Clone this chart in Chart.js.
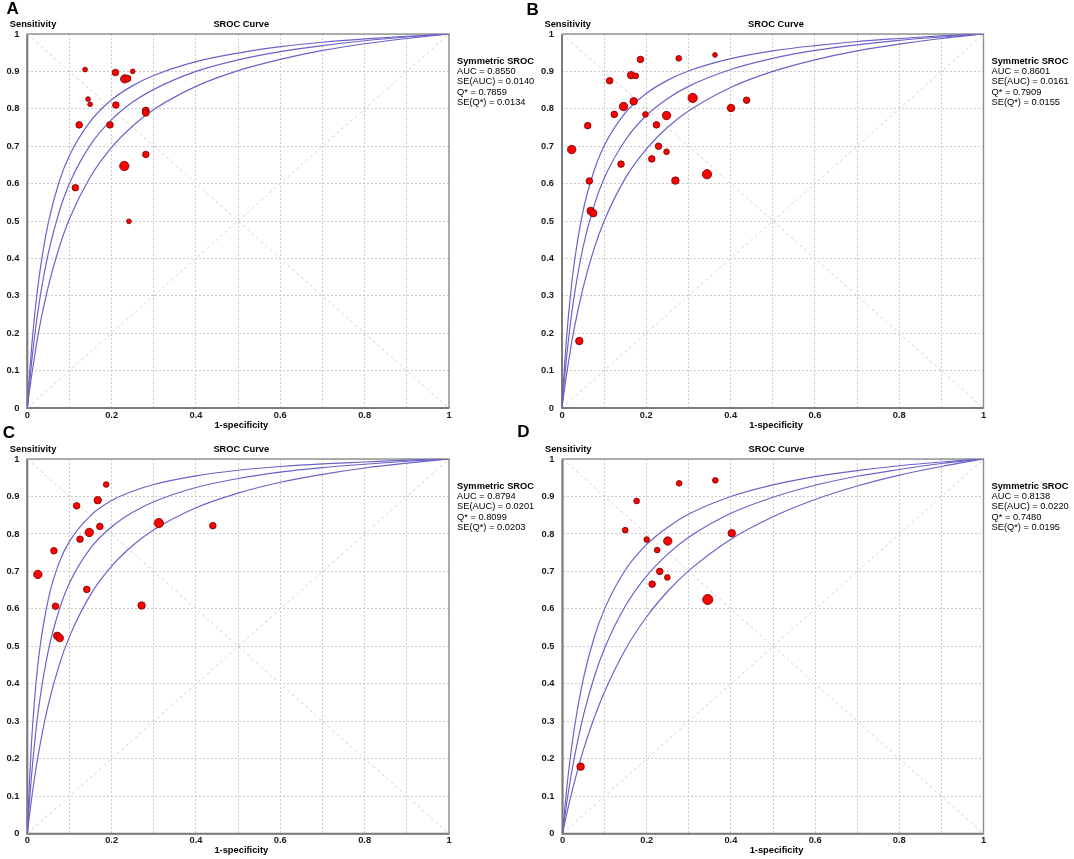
<!DOCTYPE html>
<html><head><meta charset="utf-8">
<script src="https://cdn.jsdelivr.net/npm/chart.js@4.4.1/dist/chart.umd.min.js"></script>
<style>
html,body{margin:0;padding:0;background:#fff;}
body{width:1074px;height:859px;position:relative;overflow:hidden;font-family:Arial,"Liberation Sans",sans-serif;}
canvas{position:absolute;}
.t{position:absolute;white-space:nowrap;color:#000;z-index:5;}
.letter{font-weight:bold;font-size:17px;line-height:17px;}
.lab{font-weight:bold;font-size:9.3px;line-height:12px;}
.stat{font-size:9.3px;line-height:10.3px;}
</style></head>
<body>
<script>
// ---------- data ----------
const curveX = [0, 0.005, 0.01, 0.02, 0.03, 0.05, 0.075, 0.1, 0.15, 0.2, 0.25, 0.3, 0.4, 0.5, 0.6, 0.7, 0.8, 0.9, 1];
const xTickLabels = ['0','','0.2','','0.4','','0.6','','0.8','','1'];
const yTickLabels = ['0','0.1','0.2','0.3','0.4','0.5','0.6','0.7','0.8','0.9','1'];
const diagX = [0, 1];
const diagY = [0, 1];
const antiY = [1, 0];

// Panel A
const aCurveMid = [0, 0.063, 0.120, 0.216, 0.294, 0.415, 0.522, 0.600, 0.704, 0.771, 0.818, 0.852, 0.900, 0.931, 0.953, 0.969, 0.982, 0.992, 1];
const aCurveUp  = [0, 0.086, 0.159, 0.276, 0.366, 0.496, 0.603, 0.675, 0.767, 0.824, 0.862, 0.889, 0.926, 0.949, 0.966, 0.978, 0.987, 0.994, 1];
const aCurveLo  = [0, 0.044, 0.085, 0.158, 0.222, 0.326, 0.427, 0.506, 0.619, 0.697, 0.754, 0.798, 0.860, 0.902, 0.932, 0.956, 0.974, 0.988, 1];
const aFpr  = [0.137, 0.209, 0.231, 0.238, 0.250, 0.144, 0.149, 0.210, 0.281, 0.281, 0.123, 0.196, 0.281, 0.230, 0.114, 0.241];
const aSens = [0.905, 0.897, 0.880, 0.881, 0.900, 0.826, 0.812, 0.810, 0.795, 0.789, 0.757, 0.757, 0.678, 0.647, 0.589, 0.499];
const aWeight = [1, 2, 3, 2, 1, 1, 1, 2, 2.3, 2, 2, 2, 2, 3.5, 2, 1];
const aStats = ['AUC = 0.8550', 'SE(AUC) = 0.0140', 'Q* = 0.7859', 'SE(Q*) = 0.0134'];

// Panel B
const bCurveMid = [0, 0.067, 0.126, 0.226, 0.307, 0.430, 0.537, 0.614, 0.716, 0.782, 0.827, 0.860, 0.905, 0.935, 0.956, 0.971, 0.983, 0.992, 1];
const bCurveUp  = [0, 0.096, 0.176, 0.301, 0.395, 0.527, 0.631, 0.701, 0.789, 0.841, 0.876, 0.901, 0.934, 0.955, 0.969, 0.980, 0.988, 0.995, 1];
const bCurveLo  = [0, 0.043, 0.083, 0.155, 0.218, 0.321, 0.422, 0.500, 0.614, 0.692, 0.750, 0.794, 0.857, 0.900, 0.931, 0.955, 0.973, 0.988, 1];
const bFpr  = [0.023, 0.061, 0.065, 0.113, 0.124, 0.140, 0.146, 0.164, 0.175, 0.170, 0.186, 0.198, 0.224, 0.213, 0.229, 0.248, 0.248, 0.277, 0.269, 0.310, 0.344, 0.363, 0.401, 0.438, 0.068, 0.074, 0.041];
const bSens = [0.691, 0.755, 0.607, 0.875, 0.785, 0.652, 0.806, 0.890, 0.888, 0.820, 0.932, 0.785, 0.757, 0.666, 0.700, 0.685, 0.782, 0.935, 0.608, 0.829, 0.625, 0.944, 0.802, 0.823, 0.527, 0.521, 0.179];
const bWeight = [3, 2, 2, 2, 2, 2, 3, 2.5, 1.5, 2.5, 2, 1.5, 2, 2, 2, 1.5, 3, 1.5, 2.5, 3.5, 3.5, 1, 2.5, 2, 2.5, 2.5, 2.5];
const bStats = ['AUC = 0.8601', 'SE(AUC) = 0.0161', 'Q* = 0.7909', 'SE(Q*) = 0.0155'];

// Panel C
const cCurveMid = [0, 0.084, 0.155, 0.270, 0.360, 0.489, 0.595, 0.669, 0.762, 0.819, 0.858, 0.886, 0.924, 0.948, 0.965, 0.977, 0.986, 0.994, 1];
const cCurveUp  = [0, 0.138, 0.244, 0.395, 0.497, 0.627, 0.722, 0.780, 0.849, 0.889, 0.914, 0.932, 0.955, 0.970, 0.980, 0.987, 0.992, 0.997, 1];
const cCurveLo  = [0, 0.048, 0.092, 0.170, 0.236, 0.345, 0.448, 0.526, 0.638, 0.714, 0.769, 0.811, 0.870, 0.909, 0.938, 0.959, 0.976, 0.989, 1];
const cFpr  = [0.025, 0.063, 0.067, 0.117, 0.125, 0.141, 0.147, 0.167, 0.172, 0.187, 0.312, 0.271, 0.440, 0.071, 0.077];
const cSens = [0.692, 0.755, 0.607, 0.875, 0.786, 0.652, 0.804, 0.890, 0.820, 0.932, 0.829, 0.609, 0.822, 0.528, 0.522];
const cWeight = [3, 2, 2, 2, 2, 2, 3, 2.5, 2, 1.5, 3.5, 2.5, 2, 2.5, 2.5];
const cStats = ['AUC = 0.8794', 'SE(AUC) = 0.0201', 'Q* = 0.8099', 'SE(Q*) = 0.0203'];

// Panel D
const dCurveMid = [0, 0.042, 0.082, 0.152, 0.214, 0.317, 0.417, 0.495, 0.609, 0.688, 0.746, 0.791, 0.855, 0.898, 0.930, 0.954, 0.972, 0.988, 1];
const dCurveUp  = [0, 0.064, 0.120, 0.216, 0.295, 0.416, 0.523, 0.600, 0.705, 0.772, 0.818, 0.853, 0.900, 0.931, 0.953, 0.969, 0.982, 0.992, 1];
const dCurveLo  = [0, 0.027, 0.053, 0.101, 0.145, 0.225, 0.308, 0.379, 0.493, 0.579, 0.647, 0.702, 0.786, 0.846, 0.892, 0.928, 0.957, 0.980, 1];
const dFpr  = [0.149, 0.176, 0.200, 0.225, 0.250, 0.231, 0.249, 0.213, 0.277, 0.363, 0.402, 0.345, 0.043];
const dSens = [0.810, 0.888, 0.785, 0.757, 0.781, 0.700, 0.684, 0.666, 0.935, 0.943, 0.802, 0.625, 0.179];
const dWeight = [1.5, 1.5, 1.5, 1.5, 3, 2, 1.5, 2, 1.5, 1.5, 2.5, 4, 2.5];
const dStats = ['AUC = 0.8138', 'SE(AUC) = 0.0220', 'Q* = 0.7480', 'SE(Q*) = 0.0195'];

// ---------- layout ----------
const panels = [
  {letter:'A', lx:6.5, ly:0.3, L:0,   T:0,   W:539, H:445, PL:27.3, PR:449,   PT:34,  PB:408,   mid:aCurveMid, up:aCurveUp, lo:aCurveLo, fpr:aFpr, sens:aSens, w:aWeight, stats:aStats},
  {letter:'B', lx:526.5, ly:1, L:535, T:0,   W:539, H:445, PL:562,  PR:983.5, PT:34,  PB:408,   mid:bCurveMid, up:bCurveUp, lo:bCurveLo, fpr:bFpr, sens:bSens, w:bWeight, stats:bStats},
  {letter:'C', lx:2.7, ly:424.3, L:0,   T:425, W:539, H:434, PL:27.3, PR:449,   PT:459, PB:833.7, mid:cCurveMid, up:cCurveUp, lo:cCurveLo, fpr:cFpr, sens:cSens, w:cWeight, stats:cStats},
  {letter:'D', lx:517.2, ly:422.8, L:535, T:425, W:539, H:434, PL:562.5, PR:983.5, PT:459, PB:833.7, mid:dCurveMid, up:dCurveUp, lo:dCurveLo, fpr:dFpr, sens:dSens, w:dWeight, stats:dStats}
];

const FONT = 'Arial, "Liberation Sans", sans-serif';
const CURVE = '#6b63c9';
const X_AXIS_H = 18;

function pts(xs, ys){ return xs.map((x,i)=>({x:x, y:ys[i]})); }
function addText(cls, txt, left, top, center){
  const d = document.createElement('div');
  d.className = 't ' + cls;
  d.textContent = txt;
  d.style.left = left + 'px';
  d.style.top = top + 'px';
  if (center) d.style.transform = 'translateX(-50%)';
  document.body.appendChild(d);
  return d;
}

const framePlugin = {
  id:'frame',
  beforeDatasetsDraw(chart){
    const a = chart.chartArea, ctx = chart.ctx;
    ctx.save();
    ctx.strokeStyle = '#8e8e8e';
    ctx.lineWidth = 1.4;
    ctx.strokeRect(a.left, a.top, a.right - a.left, a.bottom - a.top);
    ctx.strokeStyle = '#7a7a7a';
    ctx.lineWidth = 2;
    ctx.beginPath();
    ctx.moveTo(a.left, a.top); ctx.lineTo(a.left, a.bottom); ctx.lineTo(a.right, a.bottom);
    ctx.stroke();
    ctx.restore();
  }
};

panels.forEach(p => {
  const cv = document.createElement('canvas');
  cv.width = p.W; cv.height = p.H;
  cv.style.left = p.L + 'px'; cv.style.top = p.T + 'px';
  cv.style.width = p.W + 'px'; cv.style.height = p.H + 'px';
  document.body.appendChild(cv);

  const lineDs = (ys, extra) => Object.assign({
    data: pts(curveX, ys), showLine:true, pointRadius:0, pointHoverRadius:0,
    borderColor: CURVE, borderWidth:1.2, fill:false, cubicInterpolationMode:'monotone'
  }, extra || {});

  new Chart(cv, {
    type:'scatter',
    data:{ datasets:[
      { data: pts(p.fpr, p.sens), pointRadius: p.w.map(w => 1.5 + 0.9*w), pointHoverRadius: p.w.map(w => 1.5 + 0.9*w),
        backgroundColor:'#ff0000', borderColor:'#6e0000', borderWidth:0.8, order:0 },
      lineDs(p.up, {order:1}),
      lineDs(p.mid, {order:2}),
      lineDs(p.lo, {order:3}),
      { data: pts(diagX, diagY), showLine:true, pointRadius:0, borderColor:'#d2d2d2', borderWidth:1, borderDash:[3,3], order:6 },
      { data: pts(diagX, antiY), showLine:true, pointRadius:0, borderColor:'#d2d2d2', borderWidth:1, borderDash:[3,3], order:7 }
    ]},
    options:{
      responsive:false, animation:false, events:[],
      layout:{ padding:{ left:0, top:p.PT - p.T, right:(p.L + p.W) - p.PR, bottom:(p.T + p.H) - p.PB - X_AXIS_H } },
      plugins:{ legend:{display:false}, tooltip:{enabled:false}, title:{display:false} },
      scales:{
        x:{ type:'linear', min:0, max:1,
            afterFit(s){ s.height = X_AXIS_H; },
            grid:{ color:'#cbcbcb', lineWidth:1, drawTicks:false },
            border:{ display:false, dash:[2,2] },
            ticks:{ stepSize:0.1, autoSkip:false, maxRotation:0, padding:1.5, color:'#1a1a1a',
                    font:{ family:FONT, size:9.3, weight:'bold' },
                    callback:(v,i) => xTickLabels[i] }
        },
        y:{ type:'linear', min:0, max:1,
            afterFit(s){ s.width = p.PL - p.L; },
            grid:{ color:'#cbcbcb', lineWidth:1, drawTicks:false },
            border:{ display:false, dash:[2,2] },
            ticks:{ stepSize:0.1, autoSkip:false, padding:8, color:'#1a1a1a',
                    font:{ family:FONT, size:9.3, weight:'bold' },
                    callback:(v,i) => yTickLabels[i] }
        }
      }
    },
    plugins:[framePlugin]
  });

  addText('letter', p.letter, p.lx, p.ly, false);
  addText('lab', 'Sensitivity', p.PL - 17.5, p.PT - 16, false);
  addText('lab', 'SROC Curve', p.PL + 214, p.PT - 16, true);
  addText('lab', '1-specificity', p.PL + 214, p.PB + 10.5, true);
  const sx = p.PR + 8, sy = p.PT + 27 - 5.15;
  const head = addText('stat', 'Symmetric SROC', sx, sy, false);
  head.style.fontWeight = 'bold';
  p.stats.forEach((s, i) => addText('stat', s, sx, sy + 10.3*(i+1), false));
});
</script>
</body></html>
